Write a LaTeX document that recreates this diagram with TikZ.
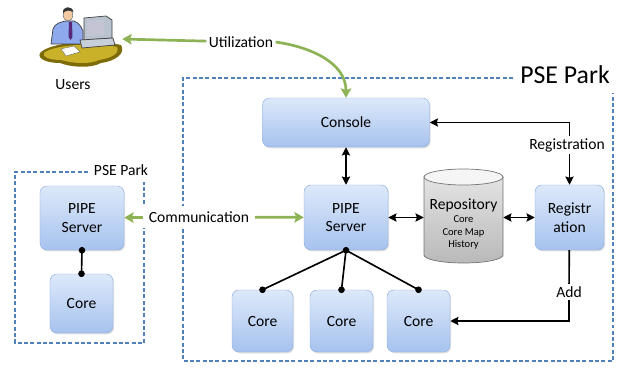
\documentclass[tikz,border=0pt]{standalone}
\usepackage{fontspec}
\setmainfont{Carlito}
\definecolor{boxtop}{HTML}{DDE9FA}
\definecolor{boxbot}{HTML}{A6C2EE}
\definecolor{boxline}{HTML}{8DAEE0}
\definecolor{parkblue}{HTML}{4F81BD}
\definecolor{leafgreen}{HTML}{8DB356}
\definecolor{deskyellow}{HTML}{C9B22A}
\definecolor{deskdark}{HTML}{7D6C08}
\definecolor{shirtblue}{HTML}{8EA9EC}
\definecolor{tiepurple}{HTML}{5A2A7A}
\definecolor{skin}{HTML}{F2C9A0}
\definecolor{monigray}{HTML}{B9C3CF}
\usepackage{tikz}
\usetikzlibrary{arrows.meta,positioning,shadows}
\tikzset{
  comp/.style={rounded corners=6pt,draw=boxline,top color=boxtop,bottom color=boxbot,
    align=center,inner sep=0pt,
    drop shadow={shadow xshift=1pt,shadow yshift=-1.2pt,opacity=0.25}},
  arr/.style={-{Stealth[length=7pt,width=7pt,inset=1pt]},line width=1.4pt},
  darr/.style={{Stealth[length=7pt,width=7pt,inset=1pt]}-{Stealth[length=7pt,width=7pt,inset=1pt]},line width=1.4pt},
  garr/.style={-{Stealth[length=8pt,width=9pt,inset=1.5pt]},leafgreen,line width=2.3pt},
  link/.style={line width=1.4pt},
  dot/.style={circle,fill=black,inner sep=2pt},
  parkln/.style={parkblue,dash pattern=on 3.4pt off 2pt,line width=1.2pt},
  lbl/.style={fill=white,inner sep=2pt},
  small/.style={font=\fontsize{9}{10.6}\selectfont},
}

\begin{document}
\begin{tikzpicture}[x=0.03cm,y=-0.03cm,font=\fontsize{13.3}{16}\selectfont]
  \useasboundingbox (0,0) rectangle (625,369);

  % user at the desk
  \fill[deskdark] (40,53) .. controls (50,42) and (95,39) .. (121,45)
        .. controls (126,53) and (116,61) .. (101,63) .. controls (90,69) and (70,67) .. (60,63)
        .. controls (47,63) and (37,59) .. (40,53) -- cycle;
  \fill[deskyellow] (44,53) .. controls (53,45) and (94,42) .. (117,47)
        .. controls (120,53) and (112,58) .. (99,60) .. controls (89,65) and (71,63) .. (61,60)
        .. controls (50,60) and (42,57) .. (44,53) -- cycle;
  \fill[white,draw=black!60,line width=0.3pt] (61,49) -- (74,46) -- (80,52) -- (66,56) -- cycle;
  \fill[shirtblue,draw=black!75,line width=0.6pt] (51,44) -- (53,29) .. controls (55,23) and (61,22) .. (66,21)
        -- (74,21) .. controls (79,23) and (81,26) .. (83,31) -- (83,44) -- cycle;
  \fill[tiepurple] (69,22) -- (72,22) -- (72.5,37) -- (70.5,40) -- (68.5,37) -- cycle;
  \fill[skin,draw=black!60,line width=0.4pt] (68,15) ellipse[x radius=4.8,y radius=6];
  \fill[black!80] (63,13) .. controls (62,6) and (72,5) .. (73.5,12) .. controls (70,10) and (66,10) .. (63,13) -- cycle;
  \fill[monigray,draw=black!75,line width=0.6pt] (84,18) -- (106,16) -- (112,20) -- (112,38) -- (84,40) -- cycle;
  \fill[blue!15!gray!40] (87,21) -- (104,20) -- (104,35) -- (87,36) -- cycle;
  \fill[monigray!80,draw=black!75,line width=0.6pt] (80,40) -- (113,38) -- (115,45) -- (82,48) -- cycle;
  \node[minimum width=2.46cm,minimum height=1.8cm,inner sep=0pt] (users) at (81,38) {};
  \node (userlbl) at (73,85) {Users};

  % PSE Park frames
  \draw[parkln] (513,78) -- (183,78) -- (183,361) -- (613,361) -- (613,93);
  \node[font=\fontsize{22}{24}\selectfont] (bigpark) at (565,75) {PSE Park};
  \draw[parkln] (88,172) -- (15,172) -- (15,343) -- (144,343) -- (144,182);
  \node (smallpark) at (121,170) {PSE Park};

  % components
  \node[comp,minimum width=5.01cm,minimum height=1.47cm] (console) at (346,122.5) {Console};
  \node[comp,minimum width=2.52cm,minimum height=1.95cm] (pipe) at (346,217.5) {PIPE\\Server};
  \node[comp,minimum width=2.07cm,minimum height=1.95cm] (reg) at (569.5,217.5) {Registr\\ation};
  \node[comp,minimum width=1.83cm,minimum height=1.86cm] (core1) at (262.5,321) {Core};
  \node[comp,minimum width=1.89cm,minimum height=1.86cm] (core2) at (341.5,321) {Core};
  \node[comp,minimum width=1.89cm,minimum height=1.86cm] (core3) at (418.5,321) {Core};
  \node[comp,minimum width=2.52cm,minimum height=1.92cm] (lpipe) at (82,218) {PIPE\\Server};
  \node[comp,minimum width=1.89cm,minimum height=1.77cm] (lcore) at (81.5,303.5) {Core};

  % repository drum
  \path[draw=black!55,line width=0.6pt,top color=gray!22,bottom color=gray!55]
       (424,177) -- (424,255) arc[start angle=180,end angle=0,x radius=39.5,y radius=8] -- (503,177) -- cycle;
  \draw[black!55,line width=0.6pt,fill=gray!8] (463.5,177) ellipse[x radius=39.5,y radius=8];
  \node[small,align=center,minimum width=2.37cm,inner sep=0pt] (repo) at (463.5,224)
       {{\fontsize{13.3}{16}\selectfont Repository}\\[1pt]Core\\Core Map\\History};

  % links
  \draw[darr] (console) -- (pipe);
  \draw[darr] (pipe.east) -- (pipe.east -| repo.west);
  \draw[darr] (repo.east |- reg.west) -- (reg.west);
  \draw[link] (pipe.south) -- (core1.north);
  \draw[link] (pipe.south) -- (core2.north);
  \draw[link] (pipe.south) -- (core3.north);
  \draw[link] (lpipe.south) -- (lcore.north);
  \node[dot] (d0) at (pipe.south) {};
  \node[dot] (d1) at (core1.north) {};
  \node[dot] (d2) at (core2.north) {};
  \node[dot] (d3) at (core3.north) {};
  \node[dot] (d4) at (lpipe.south) {};
  \node[dot] (d5) at (lcore.north) {};

  \node[lbl] (reglbl) at (567,145) {Registration};
  \draw[arr] (reglbl.north -| reg.north) |- (console.east);
  \draw[arr] (reglbl.south -| reg.north) -- (reg.north);
  \node[lbl] (addlbl) at (569,292) {Add};
  \draw[link] (reg) -- (addlbl);
  \draw[arr] (addlbl.south) |- (core3.east);

  % green flows
  \node[lbl,inner xsep=5pt,inner ysep=5pt] (comm) at (199,217) {Communication};
  \draw[garr] (comm) -- (lpipe);
  \draw[garr] (comm) -- (pipe);
  \node[lbl] (util) at (241,42) {Utilization};
  \draw[garr] (util) -- (users);
  \draw[garr] (util.east) to[out=-8,in=90] (console.north);
\end{tikzpicture}
\end{document}
